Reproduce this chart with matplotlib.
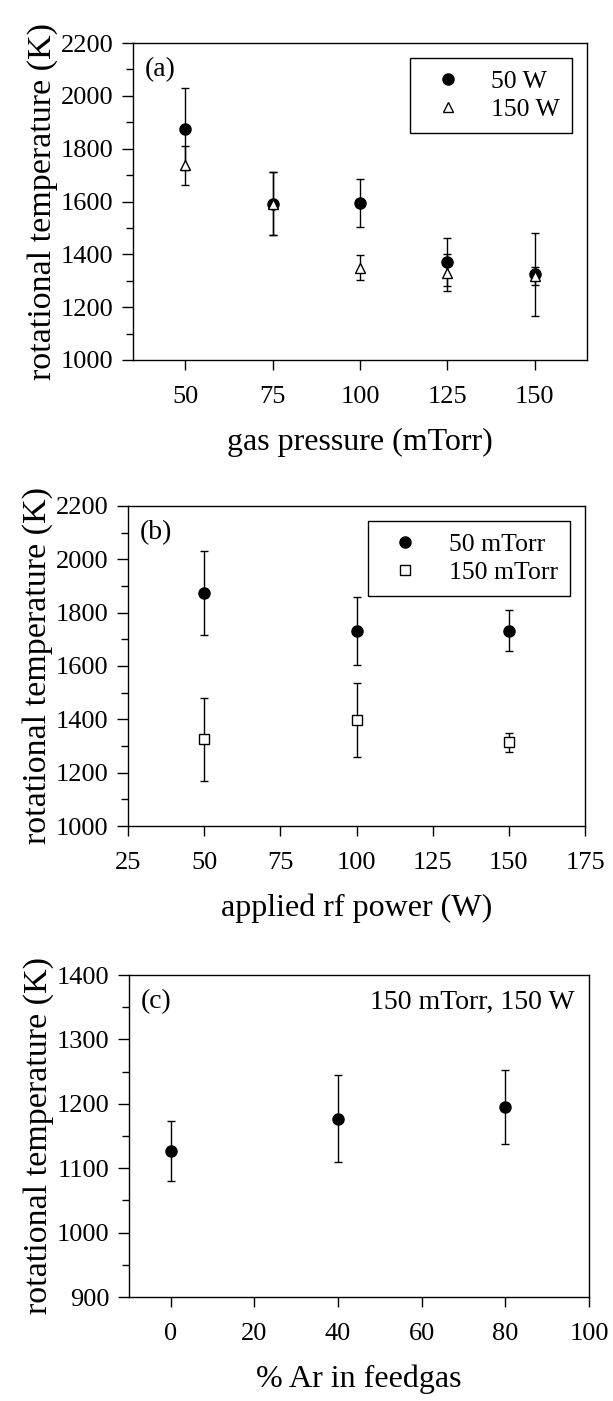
import numpy as np
import matplotlib
matplotlib.use("Agg")
import matplotlib.pyplot as plt
from matplotlib.ticker import MultipleLocator

plt.rcParams["font.family"] = ["Liberation Serif", "DejaVu Serif"]
plt.rcParams["mathtext.fontset"] = "stix"

# (a) rotational temperature vs gas pressure
pressure = [50, 75, 100, 125, 150]
t_50w = [1876, 1592, 1595, 1372, 1325]
e_50w = [155, 120, 91, 91, 157]
t_150w = [1737, 1592, 1350, 1331, 1318]
e_150w = [73, 120, 47, 70, 35]

# (b) rotational temperature vs applied rf power
power = [50, 100, 150]
t_50mt = [1875, 1732, 1732]
e_50mt = [157, 127, 77]
t_150mt = [1325, 1397, 1314]
e_150mt = [156, 138, 35]

# (c) rotational temperature vs Ar fraction
ar_pct = [0, 40, 80]
t_ar = [1127, 1177, 1195]
e_ar = [47, 67, 57]

W, H = 613, 1401
fig = plt.figure(figsize=(W / 100, H / 100), dpi=100)


def make_ax(l, r, t, b):
    return fig.add_axes([l / W, 1 - b / H, (r - l) / W, (b - t) / H])


def style(ax):
    ax.tick_params(which="both", direction="out", labelsize=19, width=1,
                   top=False, right=False)
    ax.tick_params(which="major", length=8)
    ax.tick_params(axis="x", which="major", length=7, pad=12)
    ax.tick_params(axis="y", which="major", pad=6)
    ax.tick_params(which="minor", length=5)
    for s in ax.spines.values():
        s.set_linewidth(1)
    ax.set_ylabel("rotational temperature (K)", fontsize=24.5, labelpad=2)


ebkw = dict(ls="none", ecolor="black", elinewidth=1, capsize=3, capthick=1)
legkw = dict(loc="upper right", fontsize=18.5, fancybox=False,
             edgecolor="black", framealpha=1, handletextpad=0.7,
             borderaxespad=0.6, labelspacing=0.2, handlelength=2.0,
             borderpad=0.45)

# ---- (a)
ax = make_ax(133, 587, 43, 360)
ax.errorbar(pressure, t_50w, yerr=e_50w, fmt="o", ms=8, mfc="black",
            mec="black", label="50 W", **ebkw)
ax.errorbar(pressure, t_150w, yerr=e_150w, fmt="^", ms=7, mfc="white",
            mec="black", mew=1, label="150 W", **ebkw)
ax.set_xlim(35, 165)
ax.set_ylim(1000, 2200)
ax.set_xticks(pressure)
ax.yaxis.set_major_locator(MultipleLocator(200))
ax.yaxis.set_minor_locator(MultipleLocator(100))
ax.set_xlabel("gas pressure (mTorr)", fontsize=23, labelpad=14)
ax.text(0.026, 0.955, "(a)", transform=ax.transAxes, fontsize=20, va="top")
h, lab = ax.get_legend_handles_labels()
ax.legend([x[0] for x in h], lab, **legkw)
style(ax)

# ---- (b)
ax = make_ax(128, 585, 506, 826)
ax.errorbar(power, t_50mt, yerr=e_50mt, fmt="o", ms=8, mfc="black",
            mec="black", label="50 mTorr", **ebkw)
ax.errorbar(power, t_150mt, yerr=e_150mt, fmt="s", ms=6.5, mfc="white",
            mec="black", mew=1, label="150 mTorr", **ebkw)
ax.set_xlim(25, 175)
ax.set_ylim(1000, 2200)
ax.xaxis.set_major_locator(MultipleLocator(25))
ax.yaxis.set_major_locator(MultipleLocator(200))
ax.yaxis.set_minor_locator(MultipleLocator(100))
ax.set_xlabel("applied rf power (W)", fontsize=23, labelpad=14)
ax.text(0.026, 0.955, "(b)", transform=ax.transAxes, fontsize=20, va="top")
h, lab = ax.get_legend_handles_labels()
ax.legend([x[0] for x in h], lab, **legkw)
style(ax)

# ---- (c)
ax = make_ax(129, 589, 975, 1297)
ax.errorbar(ar_pct, t_ar, yerr=e_ar, fmt="o", ms=8, mfc="black",
            mec="black", **ebkw)
ax.set_xlim(-10, 100)
ax.set_ylim(900, 1400)
ax.xaxis.set_major_locator(MultipleLocator(20))
ax.yaxis.set_major_locator(MultipleLocator(100))
ax.yaxis.set_minor_locator(MultipleLocator(50))
ax.set_xlabel("% Ar in feedgas", fontsize=23, labelpad=14)
ax.text(0.026, 0.955, "(c)", transform=ax.transAxes, fontsize=20, va="top")
ax.text(0.968, 0.955, "150 mTorr, 150 W", transform=ax.transAxes,
        fontsize=20, va="top", ha="right")
style(ax)

fig.savefig("out.png", dpi=100)
